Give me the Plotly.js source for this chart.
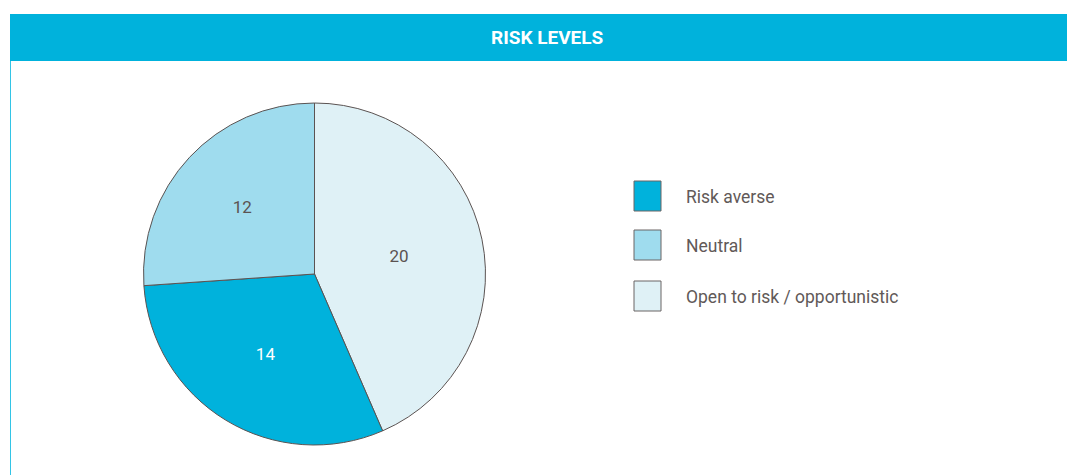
<!DOCTYPE html>
<html>
<head>
<meta charset="utf-8">
<script src="https://cdn.plot.ly/plotly-3.0.1.min.js"></script>
<style>
  html, body { margin: 0; padding: 0; background: #ffffff; }
  #chart { width: 1067px; height: 475px; }
</style>
</head>
<body>
<div id="chart"></div>
<script>
// Risk level counts, in the order they are drawn clockwise from 12 o'clock
const sliceLabels = ["Open to risk / opportunistic", "Risk averse", "Neutral"];
const sliceValues = [20, 14, 12];
const sliceColors = ["#dff1f6", "#00b2dc", "#9fdcee"];
const sliceTextColors = ["#5b5352", "#ffffff", "#5b5352"];

// Legend entries, top to bottom
const legendLabels = ["Risk averse", "Neutral", "Open to risk / opportunistic"];

const W = 1067, H = 475;
const px = x => x / W;
const py = y => 1 - y / H;

const colorOf = {};
sliceLabels.forEach((l, i) => { colorOf[l] = sliceColors[i]; });

const trace = {
  type: "pie",
  labels: sliceLabels,
  values: sliceValues,
  sort: false,
  direction: "clockwise",
  rotation: 0,
  marker: { colors: sliceColors, line: { color: "#5b5352", width: 1 } },
  textinfo: "value",
  textposition: "inside",
  insidetextorientation: "horizontal",
  insidetextfont: { family: "Roboto, sans-serif", size: 17, color: sliceTextColors },
  hoverinfo: "label+value",
  domain: { x: [px(143), px(486)], y: [py(445), py(103)] },
  showlegend: false
};

const shapes = [
  // header band
  { type: "rect", xref: "paper", yref: "paper", x0: px(10), x1: 1, y0: py(61), y1: py(14),
    fillcolor: "#00b2dc", line: { width: 0 }, layer: "below" },
  // left frame line
  { type: "line", xref: "paper", yref: "paper", x0: px(10.5), x1: px(10.5), y0: py(61), y1: 0,
    line: { color: "#33c4e6", width: 1 } }
];

const annotations = [
  { text: "<b>RISK LEVELS</b>", xref: "paper", yref: "paper", x: px(547), y: py(38),
    xanchor: "center", yanchor: "middle", showarrow: false,
    font: { family: "Roboto, sans-serif", size: 19, color: "#ffffff" } }
];

// custom legend: swatches and labels
const legendTop = [181, 230, 281];
legendLabels.forEach((lab, i) => {
  const y0 = legendTop[i];
  shapes.push({ type: "rect", xref: "paper", yref: "paper",
    x0: px(634), x1: px(661), y0: py(y0 + 30), y1: py(y0),
    fillcolor: colorOf[lab], line: { color: "#6b6464", width: 1 } });
  annotations.push({ text: lab, xref: "paper", yref: "paper", x: px(684), y: py(y0 + 16),
    xanchor: "left", yanchor: "middle", showarrow: false,
    font: { family: "Roboto, sans-serif", size: 17.5, color: "#615958" } });
});

const layout = {
  width: W, height: H,
  margin: { l: 0, r: 0, t: 0, b: 0 },
  paper_bgcolor: "#ffffff",
  plot_bgcolor: "#ffffff",
  shapes: shapes,
  annotations: annotations,
  showlegend: false
};

Plotly.newPlot("chart", [trace], layout, { displayModeBar: false, staticPlot: true });
</script>
</body>
</html>
